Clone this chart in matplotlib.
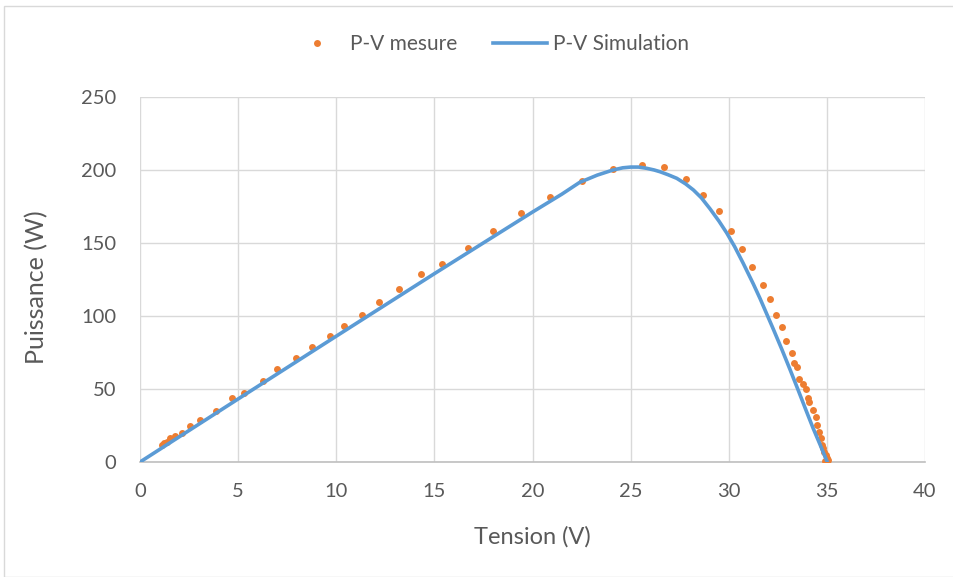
import numpy as np
import matplotlib.pyplot as plt
from matplotlib.patches import Rectangle

# measured P-V points
v_mes = [1.1, 1.2, 1.35, 1.53, 1.8, 2.12, 2.55, 3.06, 3.87, 4.67, 5.3, 6.25, 7.0, 7.95,
         8.76, 9.68, 10.4, 11.3, 12.2, 13.2, 14.3, 15.4, 16.7, 18.0, 19.4, 20.9, 22.5,
         24.1, 25.6, 26.7, 27.8, 28.7, 29.5, 30.1, 30.7, 31.2, 31.76, 32.1, 32.4, 32.7,
         32.9, 33.2, 33.34, 33.5, 33.6, 33.8, 33.94, 34.05, 34.1, 34.3, 34.45, 34.5,
         34.6, 34.7, 34.74, 34.82, 34.87, 34.96, 35.02, 35.07, 34.9, 35.0]
p_mes = [11.5, 12.8, 13.5, 16.4, 17.5, 20.0, 24.7, 28.8, 35.0, 43.6, 47.5, 55.5, 64.0, 71.0,
         79.0, 86.0, 93.0, 101.0, 109.6, 118.5, 128.8, 135.6, 146.6, 158.0, 170.5, 181.5, 192.5,
         200.7, 203.4, 202.0, 194.0, 183.0, 172.0, 158.0, 146.0, 133.6, 121.0, 111.6, 100.7, 92.7,
         83.0, 74.9, 68.0, 64.8, 57.0, 53.4, 49.8, 43.6, 41.3, 35.6, 30.6, 25.3,
         20.8, 16.2, 11.6, 9.4, 7.0, 4.8, 2.5, 1.4, 1.0, 0.5]

# simulated P-V curve
v_sim = [0, 5, 10, 15, 20, 21.5, 22.4, 23.3, 24.1, 24.6, 25.0, 25.4, 25.8, 26.2, 26.5,
         26.9, 27.35, 27.8, 28.2, 28.6, 29.04, 29.5, 29.9, 30.3, 30.74, 31.25, 31.6,
         32.27, 32.7, 33.12, 33.55, 33.97, 34.3, 34.65, 34.85, 35.02]
p_sim = [0, 43.2, 86.2, 129.0, 171.2, 183.5, 191.5, 196.5, 200.0, 201.5, 202.0, 202.0, 201.2,
         200.0, 198.8, 196.8, 194.3, 190.5, 186.3, 181.0, 173.5, 165.0, 156.8, 147.5, 136.0,
         122.0, 111.8, 91.0, 77.3, 63.4, 48.8, 34.3, 23.1, 12.0, 5.5, 0.0]

plt.rcParams['font.family'] = ['Lato', 'DejaVu Sans']
grey = '#595959'

fig = plt.figure(figsize=(9.54, 5.77), dpi=100)
ax = fig.add_axes([0.1468, 0.1993, 0.8228, 0.6326])

ax.plot(v_mes, p_mes, 'o', color='#ED7D31', markersize=5, markeredgewidth=0,
        label='P-V mesure', zorder=3)
ax.plot(v_sim, p_sim, '-', color='#5B9BD5', linewidth=2.6, label='P-V Simulation', zorder=4)

ax.set_xlim(0, 40)
ax.set_ylim(0, 250)
ax.set_xticks(np.arange(0, 41, 5))
ax.set_yticks(np.arange(0, 251, 50))
ax.grid(True, color='#d9d9d9', linewidth=1)
ax.set_axisbelow(True)
for s in ['top', 'right', 'left']:
    ax.spines[s].set_visible(False)
ax.spines['bottom'].set_color('#bfbfbf')
ax.spines['bottom'].set_linewidth(1.2)
ax.tick_params(length=0, labelsize=14.5, colors=grey)
ax.tick_params(axis='x', pad=15)
ax.tick_params(axis='y', pad=17)

ax.set_xlabel('Tension (V)', fontsize=17, color=grey)
ax.set_ylabel('Puissance (W)', fontsize=18, color=grey)
ax.xaxis.set_label_coords(0.5, -0.175)
ax.yaxis.set_label_coords(-0.117, 0.48)

fig.legend(loc='center', bbox_to_anchor=(0.513, 0.924), ncol=2, frameon=False,
           fontsize=15, labelcolor=grey, handlelength=2.6, columnspacing=1.75,
           handletextpad=0.25)

fig.patches.append(Rectangle((4 / 954, 0), 1.0, 1 - 6 / 577, transform=fig.transFigure,
                             fill=False, edgecolor='#d9d9d9', linewidth=1))

fig.savefig('out.png', dpi=100)
